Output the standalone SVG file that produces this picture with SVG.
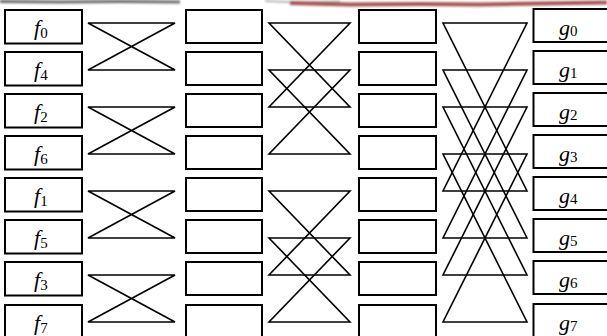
<svg xmlns="http://www.w3.org/2000/svg" width="607" height="336" viewBox="0 0 607 336">
<defs>
<style>
.box{fill:#fff;stroke:#000;stroke-width:2}
.w{fill:none;stroke:#000;stroke-width:1.6;stroke-linejoin:miter}
.t{font-family:"Liberation Serif","Times New Roman",serif;font-size:22px;font-style:italic;fill:#000}
.s{font-size:15px;font-style:normal}
</style>
<filter id="blur" x="-5%" y="-200%" width="110%" height="500%"><feGaussianBlur stdDeviation="0.8"/></filter>
</defs>
<rect width="607" height="336" fill="#fff"/>
<g id="smudge" filter="url(#blur)" opacity="0.8">
<path d="M0 1.5 L60 2 L120 1.5 L180 2" stroke="#444" stroke-width="3" fill="none"/>
<path d="M265 1 L300 2.5 L340 1.5" stroke="#888" stroke-width="1.5" fill="none"/>
<path d="M290 3 L350 4.5 L420 4 L480 4.5 L540 3.5 L607 2.5" stroke="#8b2a2a" stroke-width="4" fill="none"/>
</g>
<g id="col-f">
<g id="f0"><rect class="box" x="5" y="10" width="77" height="33.5"/><text class="t" x="34" y="35">f<tspan class="s" dy="2.5">0</tspan></text></g>
<g id="f4"><rect class="box" x="5" y="52" width="77" height="33.5"/><text class="t" x="34" y="77">f<tspan class="s" dy="2.5">4</tspan></text></g>
<g id="f2"><rect class="box" x="5" y="94" width="77" height="33.5"/><text class="t" x="34" y="119">f<tspan class="s" dy="2.5">2</tspan></text></g>
<g id="f6"><rect class="box" x="5" y="136" width="77" height="33.5"/><text class="t" x="34" y="161">f<tspan class="s" dy="2.5">6</tspan></text></g>
<g id="f1"><rect class="box" x="5" y="178" width="77" height="33.5"/><text class="t" x="34" y="203">f<tspan class="s" dy="2.5">1</tspan></text></g>
<g id="f5"><rect class="box" x="5" y="220" width="77" height="33.5"/><text class="t" x="34" y="245">f<tspan class="s" dy="2.5">5</tspan></text></g>
<g id="f3"><rect class="box" x="5" y="262" width="77" height="33.5"/><text class="t" x="34" y="287">f<tspan class="s" dy="2.5">3</tspan></text></g>
<g id="f7"><rect class="box" x="5" y="305" width="77" height="33.5"/><text class="t" x="34" y="330">f<tspan class="s" dy="2.5">7</tspan></text></g>
</g>
<g id="col-a">
<rect id="a0" class="box" x="186" y="10" width="76" height="33"/>
<rect id="a1" class="box" x="186" y="52" width="76" height="33"/>
<rect id="a2" class="box" x="186" y="94" width="76" height="33"/>
<rect id="a3" class="box" x="186" y="136" width="76" height="33"/>
<rect id="a4" class="box" x="186" y="178" width="76" height="33"/>
<rect id="a5" class="box" x="186" y="220" width="76" height="33"/>
<rect id="a6" class="box" x="186" y="262" width="76" height="33"/>
<rect id="a7" class="box" x="186" y="305" width="76" height="33"/>
</g>
<g id="col-b">
<rect id="b0" class="box" x="359" y="10" width="77" height="33"/>
<rect id="b1" class="box" x="359" y="52" width="77" height="33"/>
<rect id="b2" class="box" x="359" y="94" width="77" height="33"/>
<rect id="b3" class="box" x="359" y="136" width="77" height="33"/>
<rect id="b4" class="box" x="359" y="178" width="77" height="33"/>
<rect id="b5" class="box" x="359" y="220" width="77" height="33"/>
<rect id="b6" class="box" x="359" y="262" width="77" height="33"/>
<rect id="b7" class="box" x="359" y="305" width="77" height="33"/>
</g>
<g id="col-g">
<g id="g0"><rect class="box" x="533.5" y="9" width="80" height="33"/><text class="t" x="559" y="34.5">g<tspan class="s" dy="1.5">0</tspan></text></g>
<g id="g1"><rect class="box" x="533.5" y="51" width="80" height="33"/><text class="t" x="559" y="76.5">g<tspan class="s" dy="1.5">1</tspan></text></g>
<g id="g2"><rect class="box" x="533.5" y="93" width="80" height="33"/><text class="t" x="559" y="118.5">g<tspan class="s" dy="1.5">2</tspan></text></g>
<g id="g3"><rect class="box" x="533.5" y="135" width="80" height="33"/><text class="t" x="559" y="160.5">g<tspan class="s" dy="1.5">3</tspan></text></g>
<g id="g4"><rect class="box" x="533.5" y="177" width="80" height="33"/><text class="t" x="559" y="202.5">g<tspan class="s" dy="1.5">4</tspan></text></g>
<g id="g5"><rect class="box" x="533.5" y="219" width="80" height="33"/><text class="t" x="559" y="244.5">g<tspan class="s" dy="1.5">5</tspan></text></g>
<g id="g6"><rect class="box" x="533.5" y="261" width="80" height="33"/><text class="t" x="559" y="286.5">g<tspan class="s" dy="1.5">6</tspan></text></g>
<g id="g7"><rect class="box" x="533.5" y="304" width="80" height="33"/><text class="t" x="559" y="329.5">g<tspan class="s" dy="1.5">7</tspan></text></g>
</g>
<g id="connectors">
<path class="w" d="M88 23H175L88 70H175Z"/>
<path class="w" d="M88 107H175L88 154H175Z"/>
<path class="w" d="M88 191H175L88 238H175Z"/>
<path class="w" d="M88 275H175L88 322H175Z"/>
<path class="w" d="M269 23H350L269 107H350Z"/>
<path class="w" d="M269 70H350L269 154H350Z"/>
<path class="w" d="M269 191H350L269 275H350Z"/>
<path class="w" d="M269 238H350L269 322H350Z"/>
<path class="w" d="M443 23H527L443 191H527Z"/>
<path class="w" d="M443 70H527L443 238H527Z"/>
<path class="w" d="M443 107H527L443 275H527Z"/>
<path class="w" d="M443 154H527L443 322H527Z"/>
</g>
</svg>
